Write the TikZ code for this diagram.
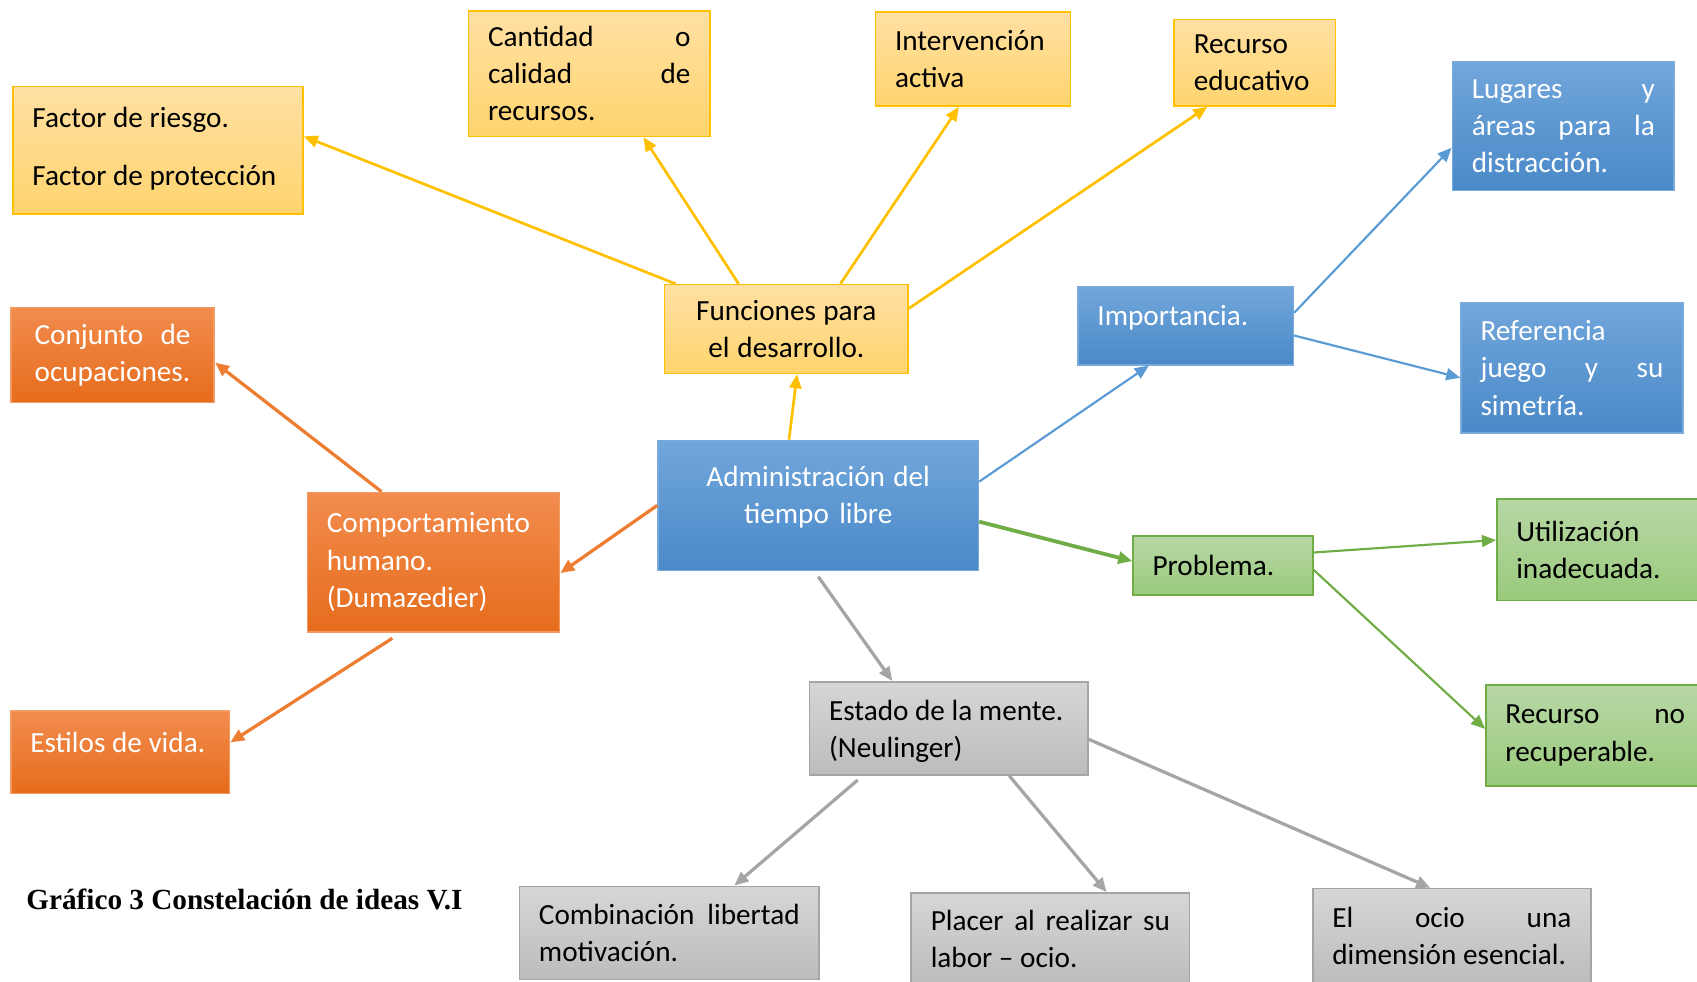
\documentclass[tikz,border=0pt]{standalone}
\usepackage{fontspec}
\setmainfont{Carlito}
\newfontfamily\capfont{Liberation Serif}
\usetikzlibrary{arrows.meta}
\hyphenpenalty=10000

\definecolor{ylw}{HTML}{FFC000}
\definecolor{ytop}{HTML}{FFE0A3}
\definecolor{ybot}{HTML}{FFD46E}
\definecolor{blu}{HTML}{5B9BD5}
\definecolor{btop}{HTML}{71A6DB}
\definecolor{bbot}{HTML}{4A89C8}
\definecolor{bedge}{HTML}{7AAADC}
\definecolor{org}{HTML}{ED7D31}
\definecolor{otop}{HTML}{F28C4E}
\definecolor{obot}{HTML}{E66C1C}
\definecolor{oedge}{HTML}{F19A62}
\definecolor{grn}{HTML}{70AD47}
\definecolor{gtop}{HTML}{B7D7A5}
\definecolor{gbot}{HTML}{9ACA7C}
\definecolor{gry}{HTML}{A5A5A5}
\definecolor{stop}{HTML}{D6D6D6}
\definecolor{sbot}{HTML}{BCBCBC}

\tikzset{
  box/.style 2 args={draw, line width=.75pt, inner xsep=9pt, inner ysep=0pt, align=left,
    minimum width=#1*.5pt, minimum height=#2*.5pt, text width=#1*.5pt-18pt,
    font=\fontsize{13.5}{17.25}\selectfont,
    execute at begin node={\spaceskip=0pt\xspaceskip=0pt\relax}},
  ybox/.style={draw=ylw, top color=ytop, bottom color=ybot},
  bbox/.style={draw=bedge, top color=btop, bottom color=bbot, text=white},
  obox/.style={draw=oedge, top color=otop, bottom color=obot, text=white},
  gbox/.style={draw=grn, top color=gtop, bottom color=gbot},
  sbox/.style={draw=gry, top color=stop, bottom color=sbot},
  arr/.style={-{Triangle[length=6.5pt,width=5.5pt]}},
}

\begin{document}
\begin{tikzpicture}[x=.5pt, y=-.5pt]
  \useasboundingbox (0,0) rectangle (1568,907);

  \node[box={268}{118}, ybox, text depth=31pt] (fac) at (146,139) {Factor de riesgo.\\[9.75pt]Factor de protección};
  \node[box={223}{116}, ybox] (can) at (544.5,68) {Cantidad\hfill o\\calidad\hfill de\\recursos.};
  \node[box={180}{87}, ybox] (int) at (899,54.5) {Intervención\\activa};
  \node[box={149}{80}, ybox] (rec) at (1159.5,58) {Recurso\\educativo};
  \node[box={225}{82}, ybox, align=center] (fun) at (726.5,304) {Funciones para\\el desarrollo.};

  \node[box={205}{119}, bbox] (lug) at (1444.5,116.5) {Lugares\hfill y\\áreas\hfill para\hfill la\\distracción.};
  \node[box={199}{72}, bbox, text depth=9.5pt] (imp) at (1095.5,301) {Importancia.};
  \node[box={205}{120}, bbox] (ref) at (1452.5,340) {Referencia\\juego\hfill y\hfill su\\simetría.};
  \node[box={296}{120}, bbox, align=center, text depth=27pt] (adm) at (756,467) {Administración del\\tiempo libre};

  \node[box={188}{88}, obox, text width=72pt] (con) at (104,328) {Conjunto\hfill de\\ocupaciones.};
  \node[box={233}{129}, obox] (com) at (400.5,519.5) {Comportamiento\\humano.\\(Dumazedier)};
  \node[box={202}{76}, obox, text depth=9.5pt] (est) at (111,695) {Estilos de vida.};

  \node[box={166}{55}, gbox] (pro) at (1130,522.5) {Problema.};
  \node[box={192}{94}, gbox] (uti) at (1479,508) {Utilización\\inadecuada.};
  \node[box={202}{93}, gbox] (rno) at (1474,679.5) {Recurso\hfill no\\recuperable.};

  \node[box={257}{86}, sbox, text depth=17pt] (men) at (876.5,673) {Estado de la mente.\\(Neulinger)};
  \node[box={277}{86}, sbox] (cmb) at (618.5,862) {Combinación\hfill libertad\\motivación.};
  \node[box={257}{85}, sbox] (pla) at (970.5,867.5) {Placer\hfill al\hfill realizar\hfill su\\labor – ocio.};
  \node[box={257}{88}, sbox] (oci) at (1341.5,865) {El\hfill ocio\hfill una\\dimensión esencial.};

  \node[anchor=base west, font=\capfont\bfseries\fontsize{13.5}{16}\selectfont, inner sep=0pt] (cap) at (24,840) {Gráfico 3 Constelación de ideas V.I};

  \draw[arr, ylw, line width=1.25pt] ([xshift=-13.5pt]adm.north) -- ([xshift=5pt]fun.south);
  \draw[arr, ylw, line width=1.25pt] ([xshift=5.5pt]fun.north west) -- ([yshift=6.5pt]fac.east);
  \draw[arr, ylw, line width=1.25pt] ([xshift=-22pt]fun.north) -- ([xshift=25pt]can.south);
  \draw[arr, ylw, line width=1.25pt] ([xshift=25pt]fun.north) -- ([xshift=-6.5pt]int.south);
  \draw[arr, ylw, line width=1.25pt] ([yshift=9.5pt]fun.east) -- ([xshift=-22pt]rec.south);

  \draw[arr, blu, line width=1pt] ([yshift=11pt]adm.east) -- ([xshift=-17pt]imp.south);
  \draw[arr, blu, line width=1pt] ([yshift=6pt]imp.east) -- ([yshift=-10pt]lug.west);
  \draw[arr, blu, line width=1pt] ([yshift=-4.5pt]imp.east) -- ([yshift=-4.5pt]ref.west);

  \draw[arr, grn, line width=1.75pt] ([yshift=-7.5pt]adm.east) -- ([yshift=2pt]pro.west);
  \draw[arr, grn, line width=1pt] ([yshift=6pt]pro.east) -- ([yshift=4.5pt]uti.west);
  \draw[arr, grn, line width=1pt] ([yshift=-2pt]pro.east) -- ([yshift=3pt]rno.west);

  \draw[arr, org, line width=1.5pt] (adm.west) -- ([yshift=-5pt]com.east);
  \draw[arr, org, line width=1.5pt] ([xshift=-24pt]com.north) -- ([yshift=-3.5pt]con.east);
  \draw[arr, org, line width=1.5pt] ([xshift=-19pt, yshift=-2.5pt]com.south) -- ([yshift=4.5pt]est.east);

  \draw[arr, gry, line width=1.5pt] ([yshift=-2.5pt]adm.south) -- ([xshift=-26pt]men.north);
  \draw[arr, gry, line width=1.5pt] ([xshift=-42pt, yshift=-2pt]men.south) -- ([xshift=30pt]cmb.north);
  \draw[arr, gry, line width=1.5pt] ([xshift=28pt]men.south) -- ([xshift=26pt]pla.north);
  \draw[arr, gry, line width=1.5pt] ([yshift=-5pt]men.east) -- ([xshift=-10pt]oci.north);
\end{tikzpicture}
\end{document}
